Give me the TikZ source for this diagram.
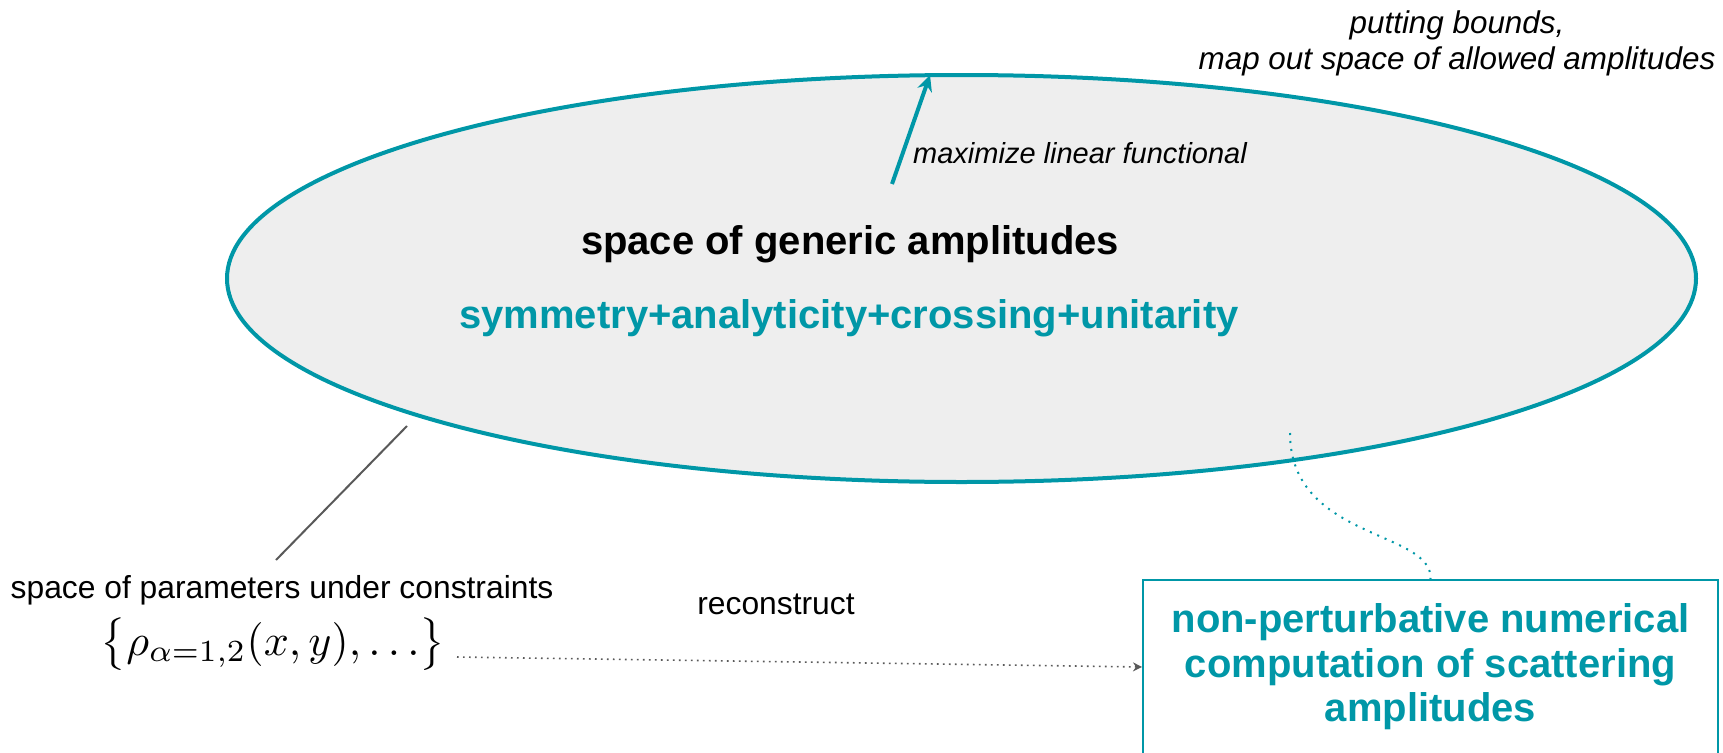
\documentclass[tikz,border=0pt]{standalone}
\usepackage[no-math]{fontspec}
\setmainfont{Liberation Sans}
\usetikzlibrary{arrows.meta,shapes.geometric}
\definecolor{tealc}{HTML}{0097A7}
\definecolor{fillg}{HTML}{EEEEEE}
\definecolor{darkg}{HTML}{595959}
\begin{document}
\begin{tikzpicture}[x=1pt,y=-1pt,
  ampshape/.style={ellipse,draw=tealc,fill=fillg,line width=4pt,inner sep=0pt,minimum width=1469pt,minimum height=407pt},
  titletext/.style={font=\fontsize{40}{46}\selectfont\bfseries,inner sep=0pt},
  propstext/.style={font=\fontsize{40}{46}\selectfont\bfseries,text=tealc,inner sep=0pt},
  itnote/.style={font=\fontsize{31.4}{36}\selectfont\itshape,inner sep=0pt,align=center},
  plain/.style={font=\fontsize{31.8}{36}\selectfont,inner sep=0pt},
  resultbox/.style={draw=tealc,line width=2pt,minimum width=575pt,minimum height=174pt,align=center,text=tealc,font=\fontsize{40}{44.5}\selectfont\bfseries,inner sep=0pt},
  tealarrow/.style={draw=tealc,line width=4pt,-{Stealth[length=16pt,width=15pt]}},
  grayline/.style={draw=darkg,line width=2pt},
  graydots/.style={draw=darkg,line width=1.6pt,dash pattern=on 1.6pt off 4.4pt,-{Stealth[length=9pt,width=9pt]}},
  tealdots/.style={draw=tealc,line width=2pt,dash pattern=on 2pt off 6pt}
]
\useasboundingbox (0,0) rectangle (1723,752);
\clip (0,0) rectangle (1723,752);
\node[ampshape] (amp) at (961.5,278.5) {};
\node[titletext] (title) at (850,244) {space of generic amplitudes};
\node[propstext] (props) at (849,318) {symmetry+analyticity+crossing+unitarity};
\node[itnote,font=\fontsize{29}{34}\selectfont\itshape] (maxf) at (1080,153) {maximize linear functional};
\node[itnote] (bounds) at (1457,43) {putting bounds,\\map out space of allowed amplitudes};
\node[plain] (params) at (282,590) {space of parameters under constraints};
\node[inner sep=0pt,font=\normalsize,scale=4.4] (rho) at (273,644) {$\bigl\{\rho_{\alpha=1,2}(x,y),\ldots\bigr\}$};
\node[plain] (recon) at (776,604) {reconstruct};
\node[resultbox] (res) at (1430.5,667) {non-perturbative numerical\\computation of scattering\\amplitudes};
\coordinate (mtail) at (892,184);
\coordinate (mtip) at (930,75);
\coordinate (gtop) at (407,426);
\coordinate (gbot) at (276,560);
\coordinate (rstart) at (457,657);
\coordinate (dstart) at (1290,433);
\draw[tealarrow] (mtail) -- (mtip);
\draw[grayline] (gtop) -- (gbot);
\draw[graydots] (rstart) -- (res.west);
\draw[tealdots] (dstart) .. controls (1290,540) and (1433,530) .. (res.north);
\end{tikzpicture}
\end{document}
